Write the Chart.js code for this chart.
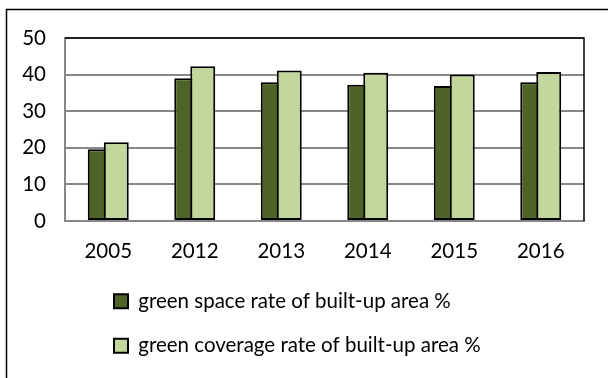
<!DOCTYPE html>
<html>
<head>
<meta charset="utf-8">
<script src="https://cdn.jsdelivr.net/npm/chart.js@4"></script>
<style>
  html, body { margin: 0; padding: 0; background: #fff; overflow: hidden; }
  #wrap { width: 608px; height: 378px; }
</style>
</head>
<body>
<div id="wrap"><canvas id="greenChart" width="608" height="378"></canvas></div>
<script>
// Years on the x axis
const years = ['2005', '2012', '2013', '2014', '2015', '2016'];
// Green space rate of built-up area (%)
const greenSpaceRate = [19.6, 39.0, 37.9, 37.2, 36.9, 37.9];
// Green coverage rate of built-up area (%)
const greenCoverageRate = [21.5, 42.3, 41.1, 40.5, 40.0, 40.7];
// Value axis ticks
const yTicks = [0, 10, 20, 30, 40, 50];

const fontFamily = 'Lato, "Liberation Sans", sans-serif';
const fontSize = 20.5;

// Outer frame of the chart and black top/right edge of the plot area
const framePlugin = {
    id: 'frame',
    beforeDraw(chart) {
        const ctx = chart.ctx;
        ctx.save();
        ctx.fillStyle = '#fff';
        ctx.fillRect(0, 0, chart.width, chart.height);
        ctx.strokeStyle = '#000';
        ctx.lineWidth = 1.5;
        ctx.strokeRect(6.5, 9.5, chart.width + 20, chart.height + 20);
        ctx.restore();
    },
    afterDraw(chart) {
        const a = chart.chartArea;
        const ctx = chart.ctx;
        ctx.save();
        ctx.strokeStyle = '#000';
        ctx.lineWidth = 1.5;
        ctx.beginPath();
        ctx.moveTo(a.left, a.top);
        ctx.lineTo(a.right, a.top);
        ctx.lineTo(a.right, a.bottom);
        ctx.stroke();
        ctx.restore();
    }
};

// Second series overlaps the first, so draw it last
const overlapPlugin = {
    id: 'overlap',
    beforeDatasetDraw(chart, args) {
        if (args.index === 1) return false;
    },
    afterDatasetsDraw(chart) {
        chart.getDatasetMeta(1).controller.draw();
    }
};

// Legend entries stacked and indented under the plot
const legendIndent = {
    id: 'legendIndent',
    afterLayout(chart) {
        chart.legend.left = chart.chartArea.left + 25;
    }
};

const ctx = document.getElementById('greenChart').getContext('2d');
new Chart(ctx, {
    type: 'bar',
    data: {
        labels: years,
        datasets: [
            {
                label: 'green space rate of built-up area %',
                data: greenSpaceRate,
                backgroundColor: '#4f6228',
                borderColor: '#000',
                borderWidth: 2,
                borderSkipped: false,
                categoryPercentage: 0.37,
                barPercentage: 1.56
            },
            {
                label: 'green coverage rate of built-up area %',
                data: greenCoverageRate,
                backgroundColor: '#c3d69b',
                borderColor: '#000',
                borderWidth: 2,
                borderSkipped: false,
                categoryPercentage: 0.37,
                barPercentage: 1.56
            }
        ]
    },
    options: {
        responsive: false,
        animation: false,
        layout: {
            padding: { top: 38, right: 24, bottom: 12, left: 0 }
        },
        plugins: {
            legend: {
                position: 'bottom',
                align: 'start',
                labels: {
                    boxWidth: 14,
                    boxHeight: 14,
                    padding: 24,
                    color: '#000',
                    font: { family: fontFamily, size: fontSize }
                }
            },
            tooltip: { enabled: false }
        },
        scales: {
            x: {
                grid: { display: false },
                border: { color: '#878787', width: 2 },
                ticks: {
                    color: '#000',
                    padding: 10,
                    font: { family: fontFamily, size: fontSize }
                },
                afterFit(scale) { scale.height = 46; }
            },
            y: {
                min: 0,
                max: 50,
                afterBuildTicks(scale) {
                    scale.ticks = yTicks.map(v => ({ value: v }));
                },
                grid: { color: '#878787', lineWidth: 2, drawTicks: false },
                border: { color: '#878787', width: 2 },
                ticks: {
                    color: '#000',
                    padding: 19,
                    font: { family: fontFamily, size: fontSize }
                },
                afterFit(scale) { scale.width = 65; }
            }
        }
    },
    plugins: [framePlugin, overlapPlugin, legendIndent]
});
</script>
</body>
</html>
